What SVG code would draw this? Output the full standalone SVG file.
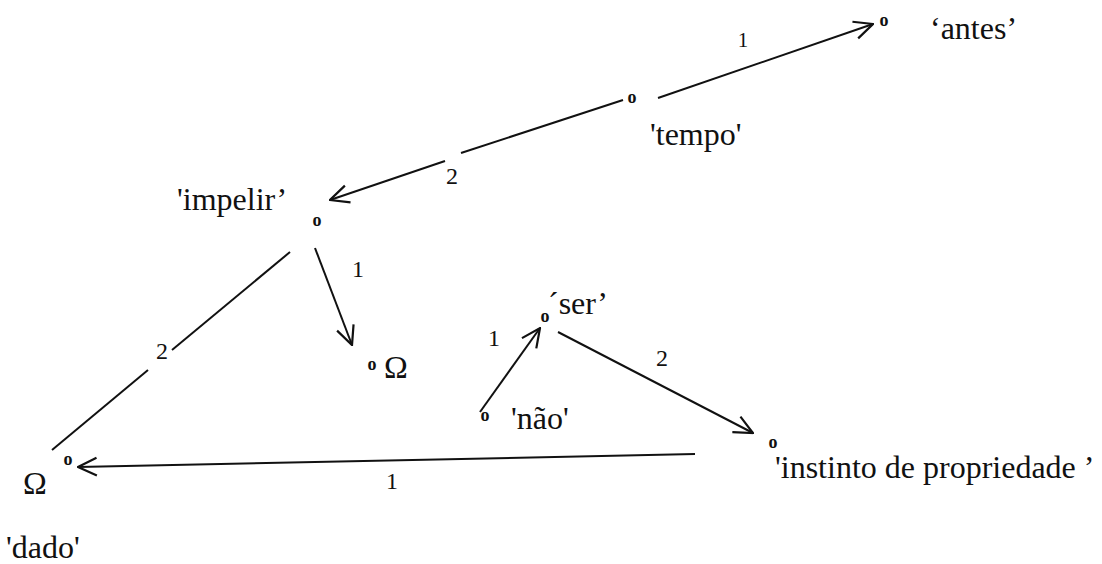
<svg xmlns="http://www.w3.org/2000/svg" width="1102" height="564" viewBox="0 0 1102 564">
<style>
.t{font-family:"Liberation Serif","Times New Roman",serif;font-size:32px;fill:#111}
.n{font-family:"Liberation Serif","Times New Roman",serif;font-size:24px;fill:#111}
.o{font-family:"Liberation Serif","Times New Roman",serif;font-size:18px;font-weight:bold;fill:#111;text-anchor:middle}
.e{stroke:#111;stroke-width:2;fill:none}
</style>
<defs>
<marker id="arr" viewBox="0 0 20 20" refX="19" refY="10" markerWidth="22" markerHeight="22" markerUnits="userSpaceOnUse" orient="auto">
<path d="M2,2 L19,10 L2,18" fill="none" stroke="#111" stroke-width="2"/>
</marker>
</defs>
<rect width="1102" height="564" fill="#fff"/>
<g id="connectors">
<line class="e" x1="658" y1="98" x2="873" y2="24" marker-end="url(#arr)"/>
<text class="n" x="743" y="47" text-anchor="middle" style="font-size:21px">1</text>
<line class="e" x1="623" y1="100" x2="461" y2="153"/>
<line class="e" x1="445" y1="161" x2="330" y2="200" marker-end="url(#arr)"/>
<text class="n" x="452" y="184" text-anchor="middle">2</text>
<line class="e" x1="315" y1="248" x2="352" y2="345" marker-end="url(#arr)"/>
<text class="n" x="358" y="277" text-anchor="middle">1</text>
<line class="e" x1="290" y1="252" x2="172" y2="350"/>
<line class="e" x1="148" y1="370" x2="52" y2="450"/>
<text class="n" x="162" y="359" text-anchor="middle">2</text>
<line class="e" x1="695" y1="454" x2="78" y2="467" marker-end="url(#arr)"/>
<text class="n" x="392" y="489" text-anchor="middle">1</text>
<line class="e" x1="480" y1="412" x2="540" y2="328" marker-end="url(#arr)"/>
<text class="n" x="494" y="346" text-anchor="middle">1</text>
<line class="e" x1="558" y1="332" x2="753" y2="433" marker-end="url(#arr)"/>
<text class="n" x="662" y="366" text-anchor="middle">2</text>
</g>
<g id="antes">
<text class="o" x="884" y="26">o</text>
<text class="t" x="930" y="39">‘antes’</text>
</g>
<g id="tempo">
<text class="o" x="632" y="103">o</text>
<text class="t" x="650" y="145">'tempo'</text>
</g>
<g id="impelir">
<text class="o" x="317" y="226">o</text>
<text class="t" x="177" y="210">'impelir’</text>
</g>
<g id="omega1">
<text class="o" x="372" y="370">o</text>
<text class="t" x="384" y="378">Ω</text>
</g>
<g id="dado">
<text class="o" x="68" y="465">o</text>
<text class="t" x="23" y="494">Ω</text>
<text class="t" x="6" y="558">'dado'</text>
</g>
<g id="ser">
<text class="o" x="545" y="322">o</text>
<text class="t" x="548" y="314">´ser’</text>
</g>
<g id="nao">
<text class="o" x="485" y="421">o</text>
<text class="t" x="511" y="429">'não'</text>
</g>
<g id="instinto">
<text class="o" x="773" y="448">o</text>
<text class="t" x="775" y="478">'instinto de propriedade ’</text>
</g>
</svg>
